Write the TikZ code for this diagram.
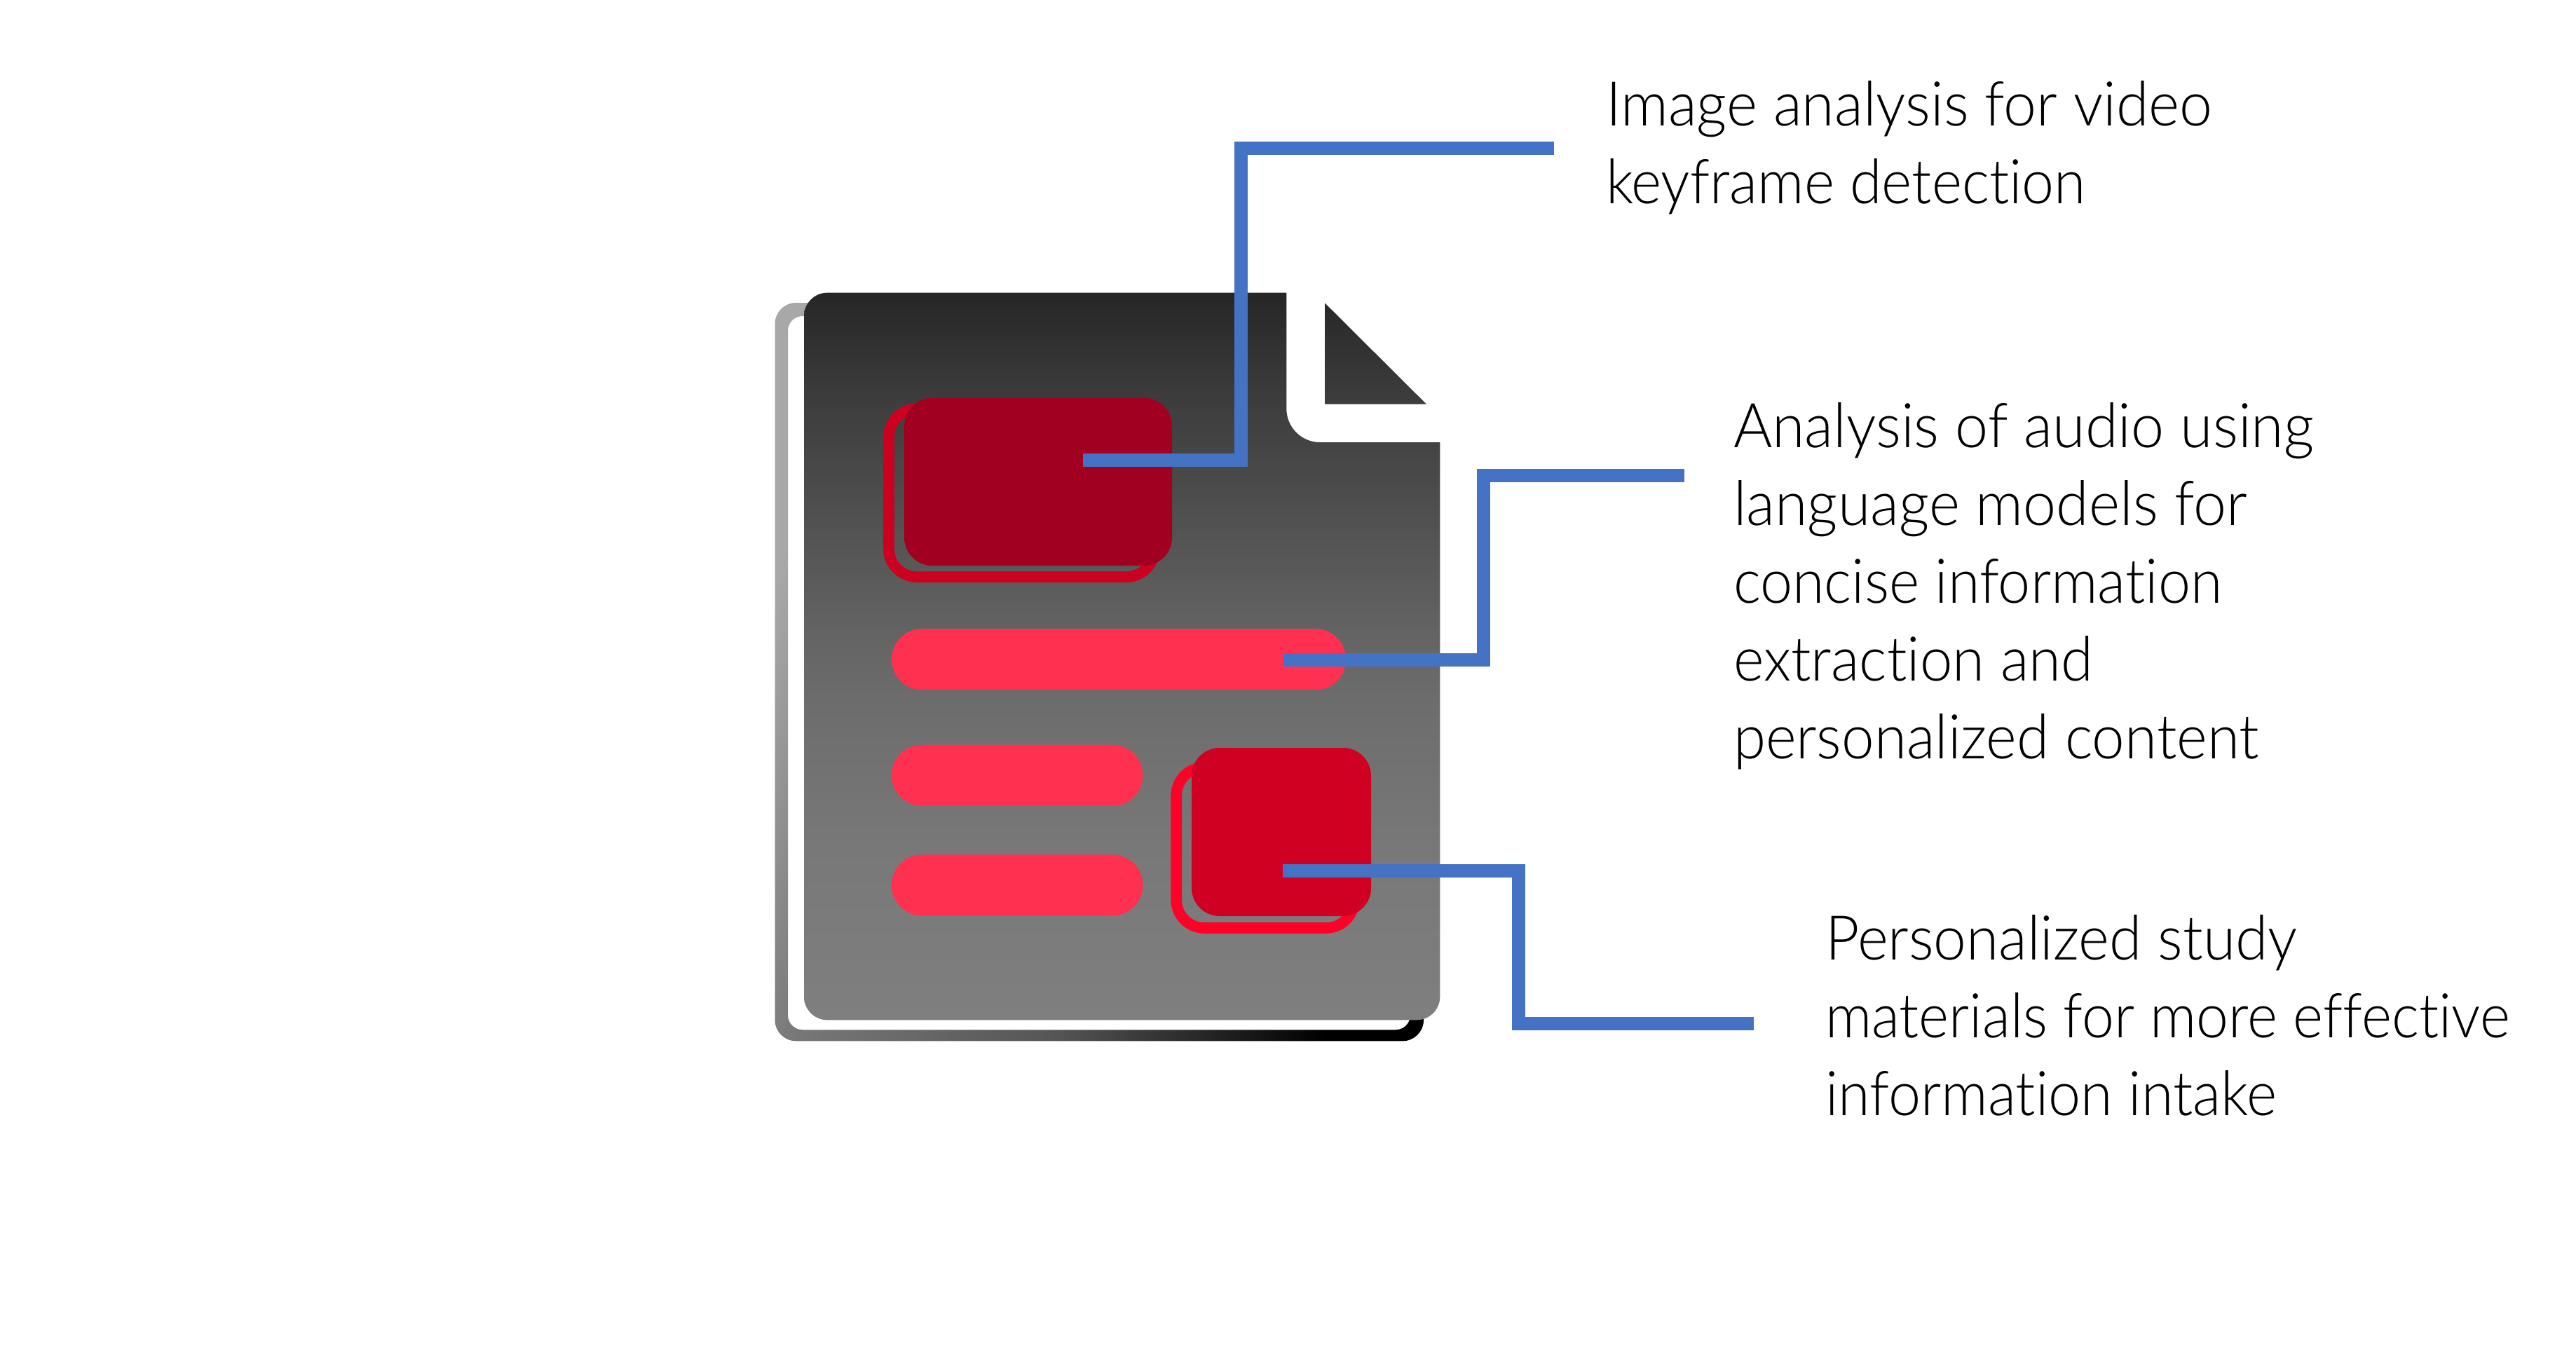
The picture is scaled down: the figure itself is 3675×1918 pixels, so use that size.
\documentclass[tikz,border=0pt]{standalone}
\usepackage{fontspec}
\setmainfont{Lato Light}[FakeStretch=0.947,Ligatures=NoCommon]
\usetikzlibrary{calc}
\definecolor{g0}{HTML}{262626}
\definecolor{g1}{HTML}{3C3C3C}
\definecolor{g2}{HTML}{636363}
\definecolor{g3}{HTML}{6C6C6C}
\definecolor{g4}{HTML}{787878}
\definecolor{g5}{HTML}{7F7F7F}
\pgfdeclareverticalshading{sheetshade}{100bp}{
 color(0bp)=(g5); color(25bp)=(g5); color(37bp)=(g4); color(47.3bp)=(g3);
 color(51.8bp)=(g2); color(67.9bp)=(g1); color(75bp)=(g0); color(100bp)=(g0)}
\definecolor{r0}{HTML}{A8A8A8}
\definecolor{r1}{HTML}{777777}
\definecolor{r2}{HTML}{555555}
\pgfdeclarehorizontalshading{ringshade}{100bp}{
 color(0bp)=(r0); color(25bp)=(r0); color(38.3bp)=(r1); color(56.25bp)=(r2);
 color(75bp)=(black); color(100bp)=(black)}
\definecolor{boxdark}{HTML}{A20020}
\definecolor{boxmid}{HTML}{CF0022}
\definecolor{ringA}{HTML}{CC0020}
\definecolor{ringB}{HTML}{FF0028}
\definecolor{pill}{HTML}{FF3050}
\definecolor{conn}{HTML}{4472C4}
\tikzset{
 panel/.style={rectangle,inner sep=0pt,outer sep=0pt,rounded corners=10pt},
 solidbox/.style={panel,draw=none},
 ringbox/.style={panel,fill=none,line width=3.9pt},
 pillbar/.style={rectangle,inner sep=0pt,outer sep=0pt,fill=pill,rounded corners=10.8pt,minimum height=21.75pt},
 link/.style={draw=conn,line width=4.75pt,miter limit=10},
 lbl/.style={anchor=north west,inner sep=0pt,outer sep=0pt,align=left,text=black,
   font=\fontsize{22}{27.75}\selectfont}
}
\newcommand{\firstline}{\rule{0pt}{20pt}}
\newcommand{\fitline}[2]{\scalebox{#1}[1]{#2}}
\begin{document}
\begin{tikzpicture}[x=0.25pt,y=-0.25pt]
\useasboundingbox (0,0) rectangle (3675,1918);
% back sheet
\path[shading=ringshade,shading angle=-20,even odd rule]
 [rounded corners=7.5pt] (1105.5,432) rectangle (2031,1485.3)
 [rounded corners=5.25pt] (1124,451) rectangle (2012,1469.3);
% white gap round the fold
\fill[white] (1835.3,405) rectangle (2054.3,631);
% front sheet with fold
\path[shading=sheetshade]
 (1835.3,417.7) -- (1180,417.7) .. controls (1162,417.7) and (1147,432.7) .. (1147,450.7)
 -- (1147,1422.3) .. controls (1147,1440.3) and (1162,1455.3) .. (1180,1455.3)
 -- (2021.3,1455.3) .. controls (2039.3,1455.3) and (2054.3,1440.3) .. (2054.3,1422.3)
 -- (2054.3,631) -- (1883,631) .. controls (1856.5,631) and (1835.3,609.5) .. (1835.3,583) -- cycle
 (1890,432.3) -- (2035,576.7) -- (1890,576.7) -- cycle;
% content
\node[ringbox,draw=ringA,minimum width=94.75pt,minimum height=59.9pt] (ringa) at (1457.5,703.25) {};
\node[solidbox,fill=boxdark,minimum width=95.5pt,minimum height=59.85pt] (boxa) at (1481,687.35) {};
\node[pillbar,minimum width=162pt] (bar1) at (1596,940.7) {};
\node[pillbar,minimum width=89.6pt] (bar2) at (1451.25,1106.2) {};
\node[pillbar,minimum width=89.6pt] (bar3) at (1451.25,1262.9) {};
\node[ringbox,draw=ringB,minimum width=63.4pt,minimum height=57.25pt] (ringb) at (1805,1209.5) {};
\node[solidbox,fill=boxmid,minimum width=64pt,minimum height=60pt] (boxb) at (1828,1187) {};
% labels
\node[lbl] (t1) at (2291,99) {\firstline\fitline{1.011}{Image analysis for video}\\\fitline{0.99}{keyframe detection}};
\node[lbl] (t2) at (2473,558) {\firstline\fitline{1.014}{Analysis of audio using}\\\fitline{1.013}{language models for}\\\fitline{0.992}{concise information}\\extraction and\\\fitline{1.003}{personalized content}};
\node[lbl] (t3) at (2604,1289.3) {\firstline\fitline{1.007}{Personalized study}\\\fitline{0.988}{materials for more effective}\\\fitline{0.993}{information intake}};
% connectors
\coordinate (c1s) at (1544.7,656.2); \coordinate (c1m) at (1770,211); \coordinate (c1e) at (2216.5,211);
\coordinate (c2s) at (1831,941); \coordinate (c2m) at (2116,678); \coordinate (c2e) at (2403,678);
\coordinate (c3s) at (1830,1242); \coordinate (c3m) at (2166,1460); \coordinate (c3e) at (2502,1460);
\path[link] (c1s) -| (c1m) -- (c1e);
\path[link] (c2s) -| (c2m) -- (c2e);
\path[link] (c3s) -| (c3m) -- (c3e);
\end{tikzpicture}
\end{document}
